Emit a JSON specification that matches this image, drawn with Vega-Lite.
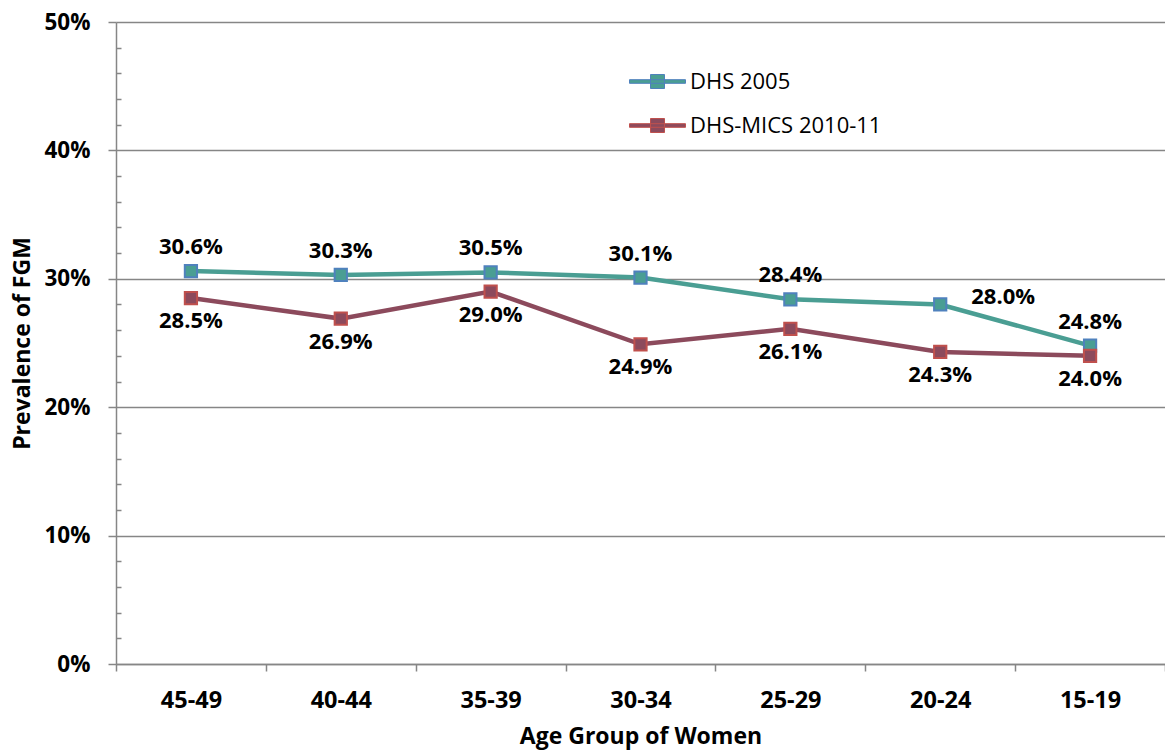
{
  "$schema": "https://vega.github.io/schema/vega-lite/v6.json",
  "width": 1049,
  "height": 642,
  "autosize": {"type": "none"},
  "padding": {"left": 116, "top": 22, "right": 0, "bottom": 88},
  "background": "white",
  "config": {
    "view": {"stroke": null},
    "font": "Open Sans"
  },
  "data": {
    "values": [
      {"age": "45-49", "series": "DHS 2005", "value": 0.306},
      {"age": "40-44", "series": "DHS 2005", "value": 0.303},
      {"age": "35-39", "series": "DHS 2005", "value": 0.305},
      {"age": "30-34", "series": "DHS 2005", "value": 0.301},
      {"age": "25-29", "series": "DHS 2005", "value": 0.284},
      {"age": "20-24", "series": "DHS 2005", "value": 0.280},
      {"age": "15-19", "series": "DHS 2005", "value": 0.248},
      {"age": "45-49", "series": "DHS-MICS 2010-11", "value": 0.285},
      {"age": "40-44", "series": "DHS-MICS 2010-11", "value": 0.269},
      {"age": "35-39", "series": "DHS-MICS 2010-11", "value": 0.290},
      {"age": "30-34", "series": "DHS-MICS 2010-11", "value": 0.249},
      {"age": "25-29", "series": "DHS-MICS 2010-11", "value": 0.261},
      {"age": "20-24", "series": "DHS-MICS 2010-11", "value": 0.243},
      {"age": "15-19", "series": "DHS-MICS 2010-11", "value": 0.240}
    ]
  },
  "encoding": {
    "x": {
      "field": "age",
      "type": "nominal",
      "sort": ["45-49", "40-44", "35-39", "30-34", "25-29", "20-24", "15-19"],
      "scale": {"paddingInner": 0, "paddingOuter": 0},
      "axis": {
        "title": "Age Group of Women",
        "titleFont": "Open Sans",
        "titleFontSize": 23,
        "titleFontWeight": "bold",
        "titleColor": "black",
        "titlePadding": 14,
        "labelAngle": 0,
        "labelFont": "Open Sans",
        "labelFontSize": 23.5,
        "labelFontWeight": "bold",
        "labelColor": "black",
        "labelPadding": 17,
        "tickBand": "extent",
        "tickSize": 7,
        "tickColor": "#868686",
        "tickWidth": 1.5,
        "domainColor": "#868686",
        "domainWidth": 1.5,
        "grid": false
      }
    },
    "y": {
      "field": "value",
      "type": "quantitative",
      "scale": {"domain": [0, 0.5], "nice": false},
      "axis": {
        "title": "Prevalence of FGM",
        "titleFont": "Open Sans",
        "titleFontSize": 23,
        "titleFontWeight": "bold",
        "titleColor": "black",
        "titlePadding": 10,
        "values": [0, 0.02, 0.04, 0.06, 0.08, 0.1, 0.12, 0.14, 0.16, 0.18, 0.2, 0.22, 0.24, 0.26, 0.28, 0.3, 0.32, 0.34, 0.36, 0.38, 0.4, 0.42, 0.44, 0.46, 0.48, 0.5],
        "labelExpr": "round(datum.value*100) % 10 == 0 ? format(datum.value, '.0%') : ''",
        "labelFont": "Open Sans",
        "labelFontSize": 22.5,
        "labelFontWeight": "bold",
        "labelColor": "black",
        "labelPadding": 18,
        "tickSize": {"condition": {"test": "round(datum.value*100) % 10 == 0", "value": 8}, "value": -5},
        "tickColor": "#868686",
        "tickWidth": 1.5,
        "domainColor": "#868686",
        "domainWidth": 1.5,
        "grid": true,
        "gridColor": "#868686",
        "gridWidth": 1.3,
        "gridOpacity": {"condition": {"test": "round(datum.value*100) % 10 == 0", "value": 1}, "value": 0}
      }
    }
  },
  "layer": [
    {
      "transform": [{"filter": "datum.series == 'DHS 2005'"}],
      "mark": {"type": "line", "strokeWidth": 4.5, "color": "#4a9e93"},
      "encoding": {}
    },
    {
      "transform": [{"filter": "datum.series == 'DHS-MICS 2010-11'"}],
      "mark": {"type": "line", "strokeWidth": 4.5, "color": "#8c4a5c"},
      "encoding": {}
    },
    {
      "mark": {"type": "point", "shape": "square", "filled": true, "size": 150, "strokeWidth": 2, "opacity": 1},
      "encoding": {
        "fill": {
          "field": "series",
          "type": "nominal",
          "scale": {"domain": ["DHS 2005", "DHS-MICS 2010-11"], "range": ["#4a9e93", "#8c4a5c"]},
          "legend": {
            "title": null,
            "orient": "none",
            "legendX": 527,
            "legendY": 45,
            "symbolType": "M-2,-0.13H2V0.13H-2Z M-0.5,-0.5H0.5V0.5H-0.5Z",
            "symbolSize": 784,
            "symbolStrokeWidth": 1,
            "labelFont": "Open Sans",
            "labelFontSize": 22,
            "labelColor": "black",
            "labelLimit": 500,
            "labelOffset": 18,
            "rowPadding": 18,
            "symbolOpacity": 1
          }
        },
        "stroke": {
          "field": "series",
          "type": "nominal",
          "scale": {"domain": ["DHS 2005", "DHS-MICS 2010-11"], "range": ["#4f81bd", "#c0504d"]},
          "legend": {
            "title": null,
            "orient": "none",
            "legendX": 527,
            "legendY": 45,
            "symbolType": "M-2,-0.13H2V0.13H-2Z M-0.5,-0.5H0.5V0.5H-0.5Z",
            "symbolSize": 784,
            "symbolStrokeWidth": 1,
            "labelFont": "Open Sans",
            "labelFontSize": 22,
            "labelColor": "black",
            "labelLimit": 500,
            "labelOffset": 18,
            "rowPadding": 18,
            "symbolOpacity": 1
          }
        }
      }
    },
    {
      "transform": [{"filter": "datum.series == 'DHS 2005' && datum.age != '20-24'"}],
      "mark": {"type": "text", "dy": -24, "font": "Open Sans", "fontSize": 22, "fontWeight": "bold", "baseline": "middle", "color": "black"},
      "encoding": {"text": {"field": "value", "type": "quantitative", "format": ".1%"}}
    },
    {
      "transform": [{"filter": "datum.series == 'DHS 2005' && datum.age == '20-24'"}],
      "mark": {"type": "text", "dx": 63, "dy": -7, "font": "Open Sans", "fontSize": 22, "fontWeight": "bold", "baseline": "middle", "color": "black"},
      "encoding": {"text": {"field": "value", "type": "quantitative", "format": ".1%"}}
    },
    {
      "transform": [{"filter": "datum.series == 'DHS-MICS 2010-11'"}],
      "mark": {"type": "text", "dy": 23, "font": "Open Sans", "fontSize": 22, "fontWeight": "bold", "baseline": "middle", "color": "black"},
      "encoding": {"text": {"field": "value", "type": "quantitative", "format": ".1%"}}
    }
  ]
}
